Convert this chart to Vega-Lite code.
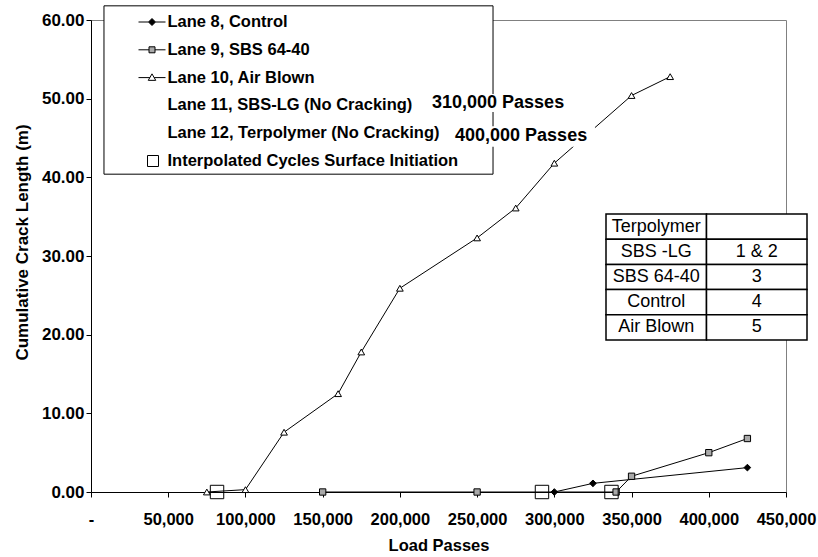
{
  "$schema": "https://vega.github.io/schema/vega-lite/v6.json",
  "width": 695,
  "height": 472,
  "autosize": {"type": "none"},
  "padding": {"left": 91, "top": 20, "right": 32, "bottom": 65},
  "background": "white",
  "config": {
    "font": "Liberation Sans",
    "view": {"stroke": "#808080", "strokeWidth": 1},
    "axis": {
      "grid": false,
      "domainColor": "black",
      "tickColor": "black",
      "labelColor": "black",
      "titleColor": "black",
      "labelFont": "Liberation Sans",
      "titleFont": "Liberation Sans",
      "labelFontWeight": "bold",
      "titleFontWeight": "bold",
      "labelFlush": false,
      "labelOverlap": false,
      "tickSize": 5
    }
  },
  "datasets": {
    "crack": [
      {"lane": "Lane 10, Air Blown", "passes": 75000, "crack": 0},
      {"lane": "Lane 10, Air Blown", "passes": 100000, "crack": 0.3},
      {"lane": "Lane 10, Air Blown", "passes": 125000, "crack": 7.6},
      {"lane": "Lane 10, Air Blown", "passes": 160000, "crack": 12.5},
      {"lane": "Lane 10, Air Blown", "passes": 175000, "crack": 17.8},
      {"lane": "Lane 10, Air Blown", "passes": 200000, "crack": 25.9},
      {"lane": "Lane 10, Air Blown", "passes": 250000, "crack": 32.3},
      {"lane": "Lane 10, Air Blown", "passes": 275000, "crack": 36.1},
      {"lane": "Lane 10, Air Blown", "passes": 300000, "crack": 41.8},
      {"lane": "Lane 10, Air Blown", "passes": 350000, "crack": 50.4},
      {"lane": "Lane 10, Air Blown", "passes": 375000, "crack": 52.8},
      {"lane": "Lane 9, SBS 64-40", "passes": 150000, "crack": 0},
      {"lane": "Lane 9, SBS 64-40", "passes": 250000, "crack": 0},
      {"lane": "Lane 9, SBS 64-40", "passes": 340000, "crack": 0},
      {"lane": "Lane 9, SBS 64-40", "passes": 350000, "crack": 2.0},
      {"lane": "Lane 9, SBS 64-40", "passes": 400000, "crack": 5.0},
      {"lane": "Lane 9, SBS 64-40", "passes": 425000, "crack": 6.8},
      {"lane": "Lane 8, Control", "passes": 300000, "crack": 0},
      {"lane": "Lane 8, Control", "passes": 325000, "crack": 1.1},
      {"lane": "Lane 8, Control", "passes": 425000, "crack": 3.1}
    ],
    "initiation": [
      {"passes": 81600, "crack": 0},
      {"passes": 292000, "crack": 0},
      {"passes": 337000, "crack": 0}
    ],
    "lanes": [
      {"lane": "Lane 8, Control"},
      {"lane": "Lane 9, SBS 64-40"},
      {"lane": "Lane 10, Air Blown"},
      {"lane": "Lane 11, SBS-LG (No Cracking)"},
      {"lane": "Lane 12, Terpolymer (No Cracking)"},
      {"lane": "Interpolated Cycles Surface Initiation"}
    ],
    "table": [
      {"material": "Terpolymer", "lanes": ""},
      {"material": "SBS -LG", "lanes": "1 & 2"},
      {"material": "SBS 64-40", "lanes": "3"},
      {"material": "Control", "lanes": "4"},
      {"material": "Air Blown", "lanes": "5"}
    ]
  },
  "layer": [
    {
      "layer": [
        {
          "data": {"name": "crack"},
          "mark": {"type": "line", "color": "black", "strokeWidth": 1},
          "encoding": {
            "x": {
              "field": "passes",
              "type": "quantitative",
              "scale": {"domain": [0, 450000], "nice": false},
              "axis": {
                "title": "Load Passes",
                "values": [0, 50000, 100000, 150000, 200000, 250000, 300000, 350000, 400000, 450000],
                "labelExpr": "datum.value === 0 ? '-' : format(datum.value, ',')",
                "labelFontSize": 16.5,
                "labelPadding": 14,
                "titleFontSize": 16.5,
                "titleX": 347.5,
                "titleY": 53,
                "titleBaseline": "middle"
              }
            },
            "y": {
              "field": "crack",
              "type": "quantitative",
              "scale": {"domain": [0, 60], "nice": false},
              "axis": {
                "title": "Cumulative Crack Length (m)",
                "values": [0, 10, 20, 30, 40, 50, 60],
                "format": ".2f",
                "labelFontSize": 17,
                "labelPadding": 2,
                "titleFontSize": 17,
                "titleX": -69,
                "titleY": 222,
                "titleAngle": -90,
                "titleAlign": "center",
                "titleBaseline": "middle"
              }
            },
            "detail": {"field": "lane"},
            "order": {"field": "passes"}
          }
        },
        {
          "data": {"name": "crack"},
          "transform": [{"filter": "datum.lane === 'Lane 8, Control'"}],
          "mark": {"type": "point", "shape": "diamond", "filled": true, "fill": "black", "stroke": "black", "strokeWidth": 1, "size": 45, "opacity": 1},
          "encoding": {
            "x": {"field": "passes", "type": "quantitative"},
            "y": {"field": "crack", "type": "quantitative"}
          }
        },
        {
          "data": {"name": "crack"},
          "transform": [{"filter": "datum.lane === 'Lane 9, SBS 64-40'"}],
          "mark": {"type": "point", "shape": "square", "filled": true, "fill": "#a9a9a9", "stroke": "black", "strokeWidth": 1, "size": 40, "opacity": 1},
          "encoding": {
            "x": {"field": "passes", "type": "quantitative"},
            "y": {"field": "crack", "type": "quantitative"}
          }
        },
        {
          "data": {"name": "crack"},
          "transform": [{"filter": "datum.lane === 'Lane 10, Air Blown'"}],
          "mark": {"type": "point", "shape": "triangle-up", "filled": true, "fill": "white", "stroke": "black", "strokeWidth": 1, "size": 45, "opacity": 1},
          "encoding": {
            "x": {"field": "passes", "type": "quantitative"},
            "y": {"field": "crack", "type": "quantitative"}
          }
        },
        {
          "data": {"name": "initiation"},
          "mark": {"type": "point", "shape": "square", "filled": false, "stroke": "black", "strokeWidth": 1, "size": 180, "opacity": 1},
          "encoding": {
            "x": {"field": "passes", "type": "quantitative"},
            "y": {"field": "crack", "type": "quantitative"}
          }
        },
        {
          "data": {"values": [{"box": "legend"}]},
          "mark": {"type": "rect", "fill": "white", "stroke": "black", "strokeWidth": 1},
          "encoding": {
            "x": {"datum": 8400},
            "x2": {"datum": 260300},
            "y": {"datum": 61.8},
            "y2": {"datum": 40.4}
          }
        },
        {
          "data": {"values": [{"note": "310,000 Passes"}]},
          "mark": {"type": "rect", "fill": "white"},
          "encoding": {
            "x": {"datum": 219500},
            "x2": {"datum": 309500},
            "y": {"datum": 50.6},
            "y2": {"datum": 48.3}
          }
        },
        {
          "data": {"values": [{"note": "400,000 Passes"}]},
          "mark": {"type": "rect", "fill": "white"},
          "encoding": {
            "x": {"datum": 233700},
            "x2": {"datum": 326300},
            "y": {"datum": 46.5},
            "y2": {"datum": 43.9}
          }
        },
        {
          "data": {"values": [{"note": "310,000 Passes"}]},
          "mark": {"type": "text", "align": "left", "baseline": "middle", "font": "Liberation Sans", "fontSize": 18, "fontWeight": "bold", "color": "black"},
          "encoding": {
            "x": {"datum": 220800},
            "y": {"datum": 49.4},
            "text": {"field": "note"}
          }
        },
        {
          "data": {"values": [{"note": "400,000 Passes"}]},
          "mark": {"type": "text", "align": "left", "baseline": "middle", "font": "Liberation Sans", "fontSize": 18, "fontWeight": "bold", "color": "black"},
          "encoding": {
            "x": {"datum": 235700},
            "y": {"datum": 45.2},
            "text": {"field": "note"}
          }
        },
        {
          "data": {"name": "lanes"},
          "mark": {"type": "point", "opacity": 0, "stroke": "black", "strokeWidth": 1},
          "encoding": {
            "fill": {
              "field": "lane",
              "type": "nominal",
              "scale": {
                "domain": ["Lane 8, Control", "Lane 9, SBS 64-40", "Lane 10, Air Blown", "Lane 11, SBS-LG (No Cracking)", "Lane 12, Terpolymer (No Cracking)", "Interpolated Cycles Surface Initiation"],
                "range": ["black", "#a9a9a9", "white", "white", "white", "white"]
              },
              "legend": {
                "orient": "none", "legendX": 13, "legendY": -12.5,
                "title": null, "padding": 1.5,
                "symbolSize": 625, "symbolStrokeWidth": 1, "symbolStrokeColor": "black", "symbolOpacity": 1,
                "symbolOffset": 33.5, "labelOffset": 2.5, "rowPadding": 5.8,
                "labelFont": "Liberation Sans", "labelFontSize": 16.5, "labelFontWeight": "bold", "labelColor": "black", "labelLimit": 400,
                "encode": {"symbols": {"update": {"stroke": {"value": "black"}, "strokeWidth": {"value": 1}, "opacity": {"value": 1}}}}
              }
            },
            "shape": {
              "field": "lane",
              "type": "nominal",
              "scale": {
                "domain": ["Lane 8, Control", "Lane 9, SBS 64-40", "Lane 10, Air Blown", "Lane 11, SBS-LG (No Cracking)", "Lane 12, Terpolymer (No Cracking)", "Interpolated Cycles Surface Initiation"],
                "range": [
                  "M-1.08,0H-0.28M0.28,0H1.08M0,-0.28L0.28,0L0,0.28L-0.28,0Z",
                  "M-1.08,0H-0.24M0.24,0H1.08M-0.24,-0.24H0.24V0.24H-0.24Z",
                  "M-1.08,0H-0.17M0.17,0H1.08M0,-0.3L0.3,0.22L-0.3,0.22Z",
                  "M0,0",
                  "M0,0",
                  "M-0.36,-0.44H0.52V0.44H-0.36Z"
                ]
              },
              "legend": {
                "orient": "none", "legendX": 13, "legendY": -12.5,
                "title": null, "padding": 1.5,
                "symbolSize": 625, "symbolStrokeWidth": 1, "symbolStrokeColor": "black", "symbolOpacity": 1,
                "symbolOffset": 33.5, "labelOffset": 2.5, "rowPadding": 5.8,
                "labelFont": "Liberation Sans", "labelFontSize": 16.5, "labelFontWeight": "bold", "labelColor": "black", "labelLimit": 400,
                "encode": {"symbols": {"update": {"stroke": {"value": "black"}, "strokeWidth": {"value": 1}, "opacity": {"value": 1}}}}
              }
            }
          }
        }
      ]
    },
    {
      "data": {"name": "table"},
      "transform": [{"fold": ["material", "lanes"], "as": ["column", "cell"]}],
      "encoding": {
        "x": {
          "field": "column", "type": "nominal",
          "scale": {"domain": ["material", "lanes"], "range": [515, 716], "paddingInner": 0, "paddingOuter": 0},
          "axis": null
        },
        "y": {
          "field": "material", "type": "nominal",
          "scale": {"domain": ["Terpolymer", "SBS -LG", "SBS 64-40", "Control", "Air Blown"], "range": [194, 320], "paddingInner": 0, "paddingOuter": 0},
          "axis": null
        }
      },
      "layer": [
        {"mark": {"type": "rect", "fill": "white", "stroke": "black", "strokeWidth": 1.5}},
        {
          "mark": {"type": "text", "font": "Liberation Sans", "fontSize": 18, "color": "black", "align": "center", "baseline": "middle"},
          "encoding": {"text": {"field": "cell"}}
        }
      ]
    }
  ],
  "resolve": {"scale": {"x": "independent", "y": "independent"}}
}
